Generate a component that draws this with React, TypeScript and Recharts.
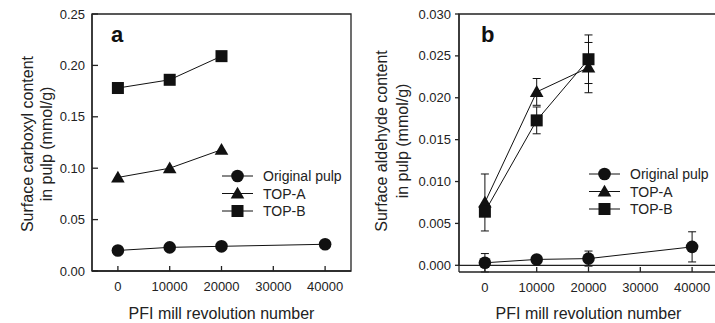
import React from "react";
import { Label, Legend, Line, LineChart, ReferenceArea, XAxis, YAxis, ErrorBar } from "recharts";

const revolutions = [0, 10000, 20000, 40000];
const xTicks = [0, 10000, 20000, 30000, 40000];

// panel a: surface carboxyl content (mmol/g)
const carboxylOriginal = [0.02, 0.023, 0.024, 0.026];
const carboxylTopA = [0.091, 0.1, 0.118];
const carboxylTopB = [0.178, 0.186, 0.209];
const carboxylTicks = [0, 0.05, 0.1, 0.15, 0.2, 0.25];

// panel b: surface aldehyde content (mmol/g), with error bars
const aldehydeOriginal = [0.0003, 0.0007, 0.0008, 0.0022];
const aldehydeOriginalErr = [0.0011, 0.0003, 0.0009, 0.0018];
const aldehydeTopA = [0.0075, 0.0207, 0.0236];
const aldehydeTopAErr = [0.0034, 0.0016, 0.003];
const aldehydeTopB = [0.0064, 0.0173, 0.0246];
const aldehydeTopBErr = [0, 0.0016, 0.0029];
const aldehydeTicks = [0, 0.005, 0.01, 0.015, 0.02, 0.025, 0.03];

const seriesNames = ["Original pulp", "TOP-A", "TOP-B"];

const font = '"Liberation Sans", Arial, sans-serif';
const ink = "#111";
const axisStroke = { stroke: "#222", strokeWidth: 1.3 };
const tickStyle = { fill: "#222", fontSize: 13 };
const titleStyle = { fill: "#222", fontSize: 16 };

type Shape = "circle" | "triangle" | "square";
const shapes: Shape[] = ["circle", "triangle", "square"];

const toPoints = (ys: number[], errs?: number[]) =>
  ys.map((y, i) => ({ x: revolutions[i], y, err: errs ? errs[i] : 0 }));

function Marker({ shape, cx, cy }: { shape: Shape; cx: number; cy: number }) {
  if (shape === "circle") return <circle cx={cx} cy={cy} r={6.3} fill={ink} />;
  if (shape === "square") return <rect x={cx - 6} y={cy - 6} width={12} height={12} fill={ink} />;
  return <polygon points={`${cx},${cy - 6.8} ${cx - 6.8},${cy + 5} ${cx + 6.8},${cy + 5}`} fill={ink} />;
}

const dotFor = (shape: Shape) => (props: any) => {
  const { cx, cy, index } = props;
  if (cx == null || cy == null) return <g key={index} />;
  return <Marker key={index} shape={shape} cx={cx} cy={cy} />;
};

function LegendBox() {
  return (
    <svg width={140} height={56} style={{ overflow: "visible" }}>
      {seriesNames.map((name, i) => {
        const y = 9 + i * 17.5;
        return (
          <g key={name}>
            <line x1={4} x2={35} y1={y} y2={y} stroke={ink} strokeWidth={1} />
            <Marker shape={shapes[i]} cx={19.5} cy={y} />
            <text x={45} y={y} dominantBaseline="central" fontSize={14} fill="#222" fontFamily={font}>
              {name}
            </text>
          </g>
        );
      })}
    </svg>
  );
}

function YTitle({ lines, x1, x2, cy }: { lines: string[]; x1: number; x2: number; cy: number }) {
  return (
    <g>
      {lines.map((t, i) => {
        const x = i === 0 ? x1 : x2;
        return (
          <text
            key={t}
            x={x}
            y={cy}
            transform={`rotate(-90, ${x}, ${cy})`}
            textAnchor="middle"
            dominantBaseline="central"
            fontSize={16}
            fill="#222"
          >
            {t}
          </text>
        );
      })}
    </g>
  );
}

function PanelA() {
  const series = [toPoints(carboxylOriginal), toPoints(carboxylTopA), toPoints(carboxylTopB)];
  return (
    <LineChart width={360} height={323} margin={{ top: 14, right: 9, left: 52, bottom: 0 }}>
      <ReferenceArea x1={-5000} x2={45000} y1={0} y2={0.25} fill="none" stroke="#222" strokeWidth={1.3} />
      <XAxis
        dataKey="x"
        type="number"
        domain={[-5000, 45000]}
        ticks={xTicks}
        interval={0}
        height={52}
        tickSize={-5}
        tickMargin={16}
        axisLine={axisStroke}
        tickLine={axisStroke}
        tick={tickStyle}
      >
        <Label value="PFI mill revolution number" position="insideBottom" offset={4} style={titleStyle} />
      </XAxis>
      <YAxis
        type="number"
        domain={[0, 0.25]}
        ticks={carboxylTicks}
        tickFormatter={(v: number) => v.toFixed(2)}
        width={40}
        tickSize={-6}
        tickMargin={13}
        axisLine={axisStroke}
        tickLine={axisStroke}
        tick={tickStyle}
      >
        <Label
          content={() => (
            <YTitle lines={["Surface carboxyl content", "in pulp (mmol/g)"]} x1={27} x2={46} cy={144} />
          )}
        />
      </YAxis>
      {series.map((pts, i) => (
        <Line
          key={seriesNames[i]}
          data={pts}
          dataKey="y"
          name={seriesNames[i]}
          stroke={ink}
          strokeWidth={1}
          dot={dotFor(shapes[i])}
          activeDot={false}
          isAnimationActive={false}
        />
      ))}
      <Legend
        layout="vertical"
        align="center"
        verticalAlign="middle"
        wrapperStyle={{ left: 218, top: 167, width: 140 }}
        content={() => <LegendBox />}
      />
    </LineChart>
  );
}

function PanelB() {
  const series = [
    toPoints(aldehydeOriginal, aldehydeOriginalErr),
    toPoints(aldehydeTopA, aldehydeTopAErr),
    toPoints(aldehydeTopB, aldehydeTopBErr)
  ];
  return (
    <LineChart width={370} height={323} margin={{ top: 14, right: 12, left: 54, bottom: 0 }}>
      <ReferenceArea x1={-5000} x2={45000} y1={0} y2={0.03} fill="none" stroke="#222" strokeWidth={1.3} />
      <XAxis
        dataKey="x"
        type="number"
        domain={[-5000, 45000]}
        ticks={xTicks}
        interval={0}
        height={51}
        tickSize={-5}
        tickMargin={16}
        axisLine={axisStroke}
        tickLine={axisStroke}
        tick={tickStyle}
      >
        <Label value="PFI mill revolution number" position="insideBottom" offset={4} style={titleStyle} />
      </XAxis>
      <YAxis
        type="number"
        domain={[0, 0.03]}
        ticks={aldehydeTicks}
        tickFormatter={(v: number) => v.toFixed(3)}
        width={45}
        tickSize={4}
        tickMargin={4}
        axisLine={axisStroke}
        tickLine={axisStroke}
        tick={tickStyle}
      >
        <Label
          content={() => (
            <YTitle lines={["Surface aldehyde content", "in pulp (mmol/g)"]} x1={21} x2={42} cy={141} />
          )}
        />
      </YAxis>
      {series.map((pts, i) => (
        <Line
          key={seriesNames[i]}
          data={pts}
          dataKey="y"
          name={seriesNames[i]}
          stroke={ink}
          strokeWidth={1}
          dot={dotFor(shapes[i])}
          activeDot={false}
          isAnimationActive={false}
        >
          <ErrorBar dataKey="err" direction="y" width={4} stroke={ink} strokeWidth={1} />
        </Line>
      ))}
      <Legend
        layout="vertical"
        align="center"
        verticalAlign="middle"
        wrapperStyle={{ left: 225, top: 165, width: 140 }}
        content={() => <LegendBox />}
      />
    </LineChart>
  );
}

export default function App() {
  return (
    <div
      style={{
        position: "absolute",
        left: 0,
        top: 0,
        width: 715,
        height: 323,
        overflow: "hidden",
        background: "#fff",
        fontFamily: font
      }}
    >
      <div style={{ position: "absolute", left: 0, top: 0 }}>
        <PanelA />
      </div>
      <div style={{ position: "absolute", left: 360, top: 0 }}>
        <PanelB />
      </div>
      <div style={{ position: "absolute", left: 111, top: 22, fontSize: 22, fontWeight: "bold", color: "#111" }}>a</div>
      <div style={{ position: "absolute", left: 481, top: 22, fontSize: 22, fontWeight: "bold", color: "#111" }}>b</div>
    </div>
  );
}
